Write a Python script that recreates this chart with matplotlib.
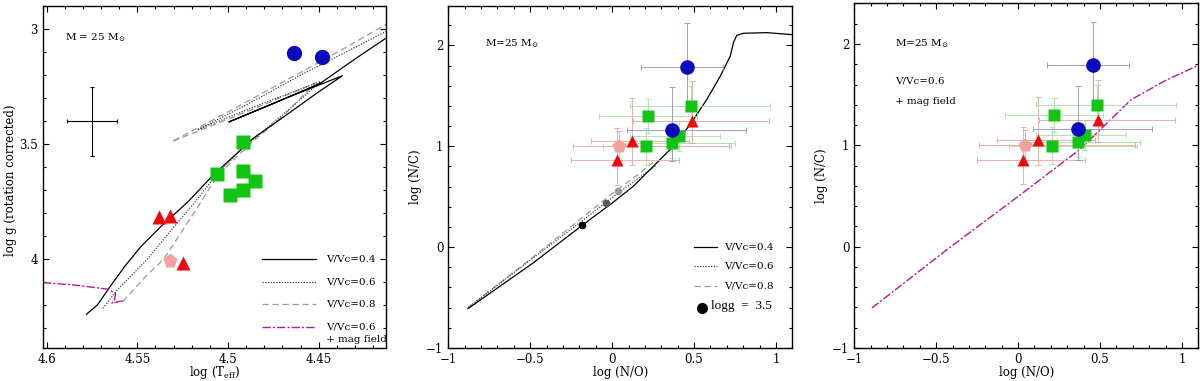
import matplotlib
matplotlib.use("Agg")
import matplotlib.pyplot as plt
from matplotlib.ticker import MultipleLocator, FuncFormatter
import numpy as np

plt.rcParams['font.family'] = ['DejaVu Serif']
plt.rcParams['mathtext.fontset'] = 'dejavuserif'

# ---------------- data ----------------
# Left panel: log Teff vs log g
teff_blue = [4.4636, 4.448]
logg_blue = [3.102, 3.122]
teff_green = [4.492, 4.506, 4.492, 4.485, 4.492, 4.499]
logg_green = [3.491, 3.629, 3.617, 3.661, 3.699, 3.722]
teff_red = [4.538, 4.532, 4.525]
logg_red = [3.817, 3.812, 4.015]
teff_pink = [4.532]
logg_pink = [4.006]
cross_teff, cross_logg = 4.575, 3.40
cross_dteff, cross_dlogg = 0.0137, 0.15

trk04_teff = [4.578, 4.572, 4.565, 4.557, 4.548, 4.537, 4.522, 4.508, 4.497, 4.486,
              4.469, 4.451, 4.437, 4.468, 4.4996, 4.474, 4.449, 4.430, 4.413]
trk04_logg = [4.239, 4.199, 4.119, 4.032, 3.945, 3.858, 3.750, 3.633, 3.554, 3.474,
              3.380, 3.278, 3.203, 3.300, 3.404, 3.320, 3.235, 3.130, 3.040]
trk06_teff = [4.569, 4.561, 4.5445, 4.532, 4.518, 4.507, 4.495, 4.480, 4.465, 4.449,
              4.483, 4.517, 4.490, 4.460, 4.435, 4.413]
trk06_logg = [4.213, 4.133, 4.000, 3.880, 3.750, 3.638, 3.540, 3.440, 3.340, 3.228,
              3.330, 3.438, 3.330, 3.200, 3.100, 3.010]
trk08_teff = [4.558, 4.546, 4.5355, 4.523, 4.512, 4.506, 4.496, 4.485, 4.470, 4.452,
              4.490, 4.531, 4.500, 4.465, 4.435, 4.413]
trk08_logg = [4.184, 4.080, 4.000, 3.850, 3.715, 3.640, 3.560, 3.480, 3.380, 3.235,
              3.360, 3.489, 3.360, 3.210, 3.080, 2.980]
trkmag_teff = [4.602, 4.585, 4.5666, 4.562, 4.5625, 4.564, 4.560, 4.557]
trkmag_logg = [4.102, 4.112, 4.130, 4.148, 4.177, 4.191, 4.184, 4.181]

# Middle/right panels: log(N/O) vs log(N/C)
no_blue = [0.457, 0.368]
nc_blue = [1.79, 1.158]
no_blue_err = [[0.28, 0.28], [0.22, 0.45]]
nc_blue_err = [[0.43, 0.30], [0.43, 0.43]]
no_green = [0.220, 0.482, 0.206, 0.367, 0.408]
nc_green = [1.297, 1.40, 0.998, 1.034, 1.10]
no_green_err = [[0.30, 0.37, 0.26, 0.35, 0.30], [0.30, 0.48, 0.52, 0.38, 0.25]]
nc_green_err = [[0.17, 0.20, 0.18, 0.15, 0.15], [0.17, 0.20, 0.18, 0.15, 0.15]]
no_red = [0.486, 0.122, 0.029]
nc_red = [1.248, 1.05, 0.86]
no_red_err = [[0.36, 0.25, 0.28], [0.47, 0.35, 0.38]]
nc_red_err = [[0.22, 0.24, 0.24], [0.40, 0.43, 0.32]]
no_pink = [0.043]
nc_pink = [1.004]
no_pink_err = [[0.28], [0.67]]
nc_pink_err = [[0.15], [0.15]]

mid04_no = [-0.88, -0.484, -0.178, 0.0, 0.129, 0.251, 0.374, 0.476, 0.578, 0.660,
            0.721, 0.741, 0.761, 0.802, 0.945, 1.10]
mid04_nc = [-0.61, -0.159, 0.222, 0.437, 0.603, 0.801, 1.0, 1.215, 1.464, 1.695,
            1.894, 2.03, 2.10, 2.12, 2.126, 2.106]
mid06_no = [-0.88, -0.5, -0.2, 0.0, 0.15, 0.27]
mid06_nc = [-0.60, -0.13, 0.24, 0.49, 0.67, 0.81]
mid08_no = [-0.88, -0.5, -0.2, 0.0, 0.15, 0.25]
mid08_nc = [-0.60, -0.12, 0.27, 0.53, 0.71, 0.84]
logg35_no = [-0.181, -0.040, 0.033]
logg35_nc = [0.217, 0.435, 0.56]
logg35_colors = ['black', '#5a5a5a', '#9a9a9a']

mag_no = [-0.892, -0.421, -0.012, 0.376, 0.69, 0.90, 1.10]
mag_nc = [-0.605, -0.013, 0.481, 0.958, 1.45, 1.64, 1.79]

legend_labels = ['V/Vc=0.4', 'V/Vc=0.6', 'V/Vc=0.8', 'V/Vc=0.6']

# ---------------- styles ----------------
C_BLUE = '#0b0bbd'
C_GREEN = '#14c414'
C_RED = '#ee0a0a'
C_PINK = '#f2a0a0'
E_BLUE = '#8e8ed6'
E_GREEN = '#9ee49e'
E_RED = '#f0a0a0'
C_MAG = '#c0168f'
LS04 = dict(color='black', lw=0.9, ls='-')
LS06 = dict(color='#444444', lw=0.9, ls=(0, (1, 1.2)))
LS08 = dict(color='#9a9a9a', lw=0.9, ls=(0, (5, 3)))
LSMAG = dict(color=C_MAG, lw=1.0, ls=(0, (6, 1.5, 1.5, 1.5)))

FS_TICK = 8.5
FS_LAB = 8.5
FS_TXT = 7.5


def fmt(v, p):
    s = '%g' % v
    return s.replace('-', '\u2212')


def style(ax, xmaj, xmin, ymaj, ymin):
    ax.xaxis.set_major_locator(MultipleLocator(xmaj))
    ax.xaxis.set_minor_locator(MultipleLocator(xmin))
    ax.yaxis.set_major_locator(MultipleLocator(ymaj))
    ax.yaxis.set_minor_locator(MultipleLocator(ymin))
    ax.xaxis.set_major_formatter(FuncFormatter(fmt))
    ax.yaxis.set_major_formatter(FuncFormatter(fmt))
    ax.tick_params(which='both', direction='in', top=True, right=True,
                   labelsize=FS_TICK, width=0.8)
    ax.tick_params(which='major', length=4.5)
    ax.tick_params(which='minor', length=2.5)
    for sp in ax.spines.values():
        sp.set_linewidth(1.0)


def stars_abund(ax):
    ax.errorbar(no_green, nc_green, xerr=no_green_err, yerr=nc_green_err, fmt='none',
                ecolor=E_GREEN, elinewidth=0.6, capsize=2.2, capthick=0.6, zorder=2)
    ax.errorbar(no_red, nc_red, xerr=no_red_err, yerr=nc_red_err, fmt='none',
                ecolor=E_RED, elinewidth=0.6, capsize=2.2, capthick=0.6, zorder=2)
    ax.errorbar(no_pink, nc_pink, xerr=no_pink_err, yerr=nc_pink_err, fmt='none',
                ecolor=E_RED, elinewidth=0.6, capsize=2.2, capthick=0.6, zorder=2)
    ax.errorbar(no_blue, nc_blue, xerr=no_blue_err, yerr=nc_blue_err, fmt='none',
                ecolor=E_BLUE, elinewidth=0.6, capsize=2.2, capthick=0.6, zorder=2)
    ax.plot(no_green, nc_green, 's', color=C_GREEN, ms=8.5, mec='none', zorder=5)
    ax.plot(no_red, nc_red, '^', color=C_RED, ms=9, mec='none', zorder=5)
    ax.plot(no_pink, nc_pink, 'p', color=C_PINK, ms=10, mec='none', zorder=5)
    ax.plot(no_blue, nc_blue, 'o', color=C_BLUE, ms=10.5, mec='none', zorder=6)


fig = plt.figure(figsize=(12, 3.81), dpi=100)

# ---------------- left panel ----------------
ax1 = fig.add_axes([0.0358, 0.0866, 0.2858, 0.8976])
ax1.plot(trk08_teff, trk08_logg, **LS08)
ax1.plot(trk06_teff, trk06_logg, **LS06)
ax1.plot(trk04_teff, trk04_logg, **LS04)
ax1.plot(trkmag_teff, trkmag_logg, **LSMAG)
ax1.errorbar([cross_teff], [cross_logg], xerr=[cross_dteff], yerr=[cross_dlogg],
             fmt='none', ecolor='black', elinewidth=0.8, capsize=1.5, capthick=0.8)
ax1.plot(teff_green, logg_green, 's', color=C_GREEN, ms=9.5, mec='none', zorder=5)
ax1.plot(teff_red, logg_red, '^', color=C_RED, ms=10, mec='none', zorder=5)
ax1.plot(teff_pink, logg_pink, 'p', color=C_PINK, ms=11, mec='none', zorder=5)
ax1.plot(teff_blue, logg_blue, 'o', color=C_BLUE, ms=11, mec='none', zorder=6)
ax1.set_xlim(4.602, 4.413)
ax1.set_ylim(4.386, 2.90)
style(ax1, 0.05, 0.01, 0.5, 0.1)
ax1.set_xlabel(r'log (T$_{\rm eff}$)', fontsize=FS_LAB)
ax1.set_ylabel('log g (rotation corrected)', fontsize=FS_LAB)
ax1.xaxis.set_label_coords(0.5, -0.046)
ax1.yaxis.set_label_coords(-0.077, 0.49)
ax1.text(0.064, 0.906, r'M = 25 M$_{\odot}$', transform=ax1.transAxes,
         fontsize=FS_TXT, va='center')
leg_y = [0.259, 0.193, 0.128, 0.060]
for st, lab, yy in zip([LS04, LS06, LS08, LSMAG], legend_labels, leg_y):
    ax1.plot([0.639, 0.795], [yy, yy], transform=ax1.transAxes, **st)
    ax1.text(0.825, yy, lab, transform=ax1.transAxes, fontsize=FS_TXT, va='center')
ax1.text(0.825, 0.026, '+ mag field', transform=ax1.transAxes, fontsize=FS_TXT, va='center')

# ---------------- middle panel ----------------
ax2 = fig.add_axes([0.3736, 0.0866, 0.2867, 0.8976])
ax2.plot(mid08_no, mid08_nc, **LS08)
ax2.plot(mid06_no, mid06_nc, **LS06)
ax2.plot(mid04_no, mid04_nc, **LS04)
for xx, yy, cc in zip(logg35_no, logg35_nc, logg35_colors):
    ax2.plot([xx], [yy], 'o', color=cc, ms=5.5, mec='none', zorder=4)
stars_abund(ax2)
ax2.set_xlim(-1.0, 1.1)
ax2.set_ylim(-1.0, 2.39)
style(ax2, 0.5, 0.1, 1.0, 0.2)
ax2.set_xlabel('log (N/O)', fontsize=FS_LAB)
ax2.set_ylabel('log (N/C)', fontsize=FS_LAB)
ax2.xaxis.set_label_coords(0.5, -0.052)
ax2.yaxis.set_label_coords(-0.076, 0.5)
ax2.text(0.107, 0.891, r'M=25 M$_{\odot}$', transform=ax2.transAxes,
         fontsize=FS_TXT, va='center')
leg2_y = [0.294, 0.241, 0.182]
for st, lab, yy in zip([LS04, LS06, LS08], legend_labels[:3], leg2_y):
    ax2.plot([0.714, 0.782], [yy, yy], transform=ax2.transAxes, **st)
    ax2.text(0.801, yy, lab, transform=ax2.transAxes, fontsize=FS_TXT, va='center')
ax2.plot([0.737], [0.116], 'o', color='black', ms=7, transform=ax2.transAxes)
ax2.text(0.763, 0.123, 'logg  =  3.5', transform=ax2.transAxes, fontsize=9.5,
         va='center', family='Liberation Serif')

# ---------------- right panel ----------------
ax3 = fig.add_axes([0.7119, 0.0866, 0.2867, 0.9044])
ax3.plot(mag_no, mag_nc, **LSMAG)
stars_abund(ax3)
ax3.set_xlim(-1.0, 1.1)
ax3.set_ylim(-1.0, 2.40)
style(ax3, 0.5, 0.1, 1.0, 0.2)
ax3.set_xlabel('log (N/O)', fontsize=FS_LAB)
ax3.set_ylabel('log (N/C)', fontsize=FS_LAB)
ax3.xaxis.set_label_coords(0.5, -0.052)
ax3.yaxis.set_label_coords(-0.076, 0.5)
ax3.text(0.118, 0.884, r'M=25 M$_{\odot}$', transform=ax3.transAxes,
         fontsize=FS_TXT, va='center')
ax3.text(0.118, 0.775, 'V/Vc=0.6', transform=ax3.transAxes, fontsize=FS_TXT, va='center')
ax3.text(0.118, 0.715, '+ mag field', transform=ax3.transAxes, fontsize=FS_TXT, va='center')

fig.savefig('out.png', dpi=100)
